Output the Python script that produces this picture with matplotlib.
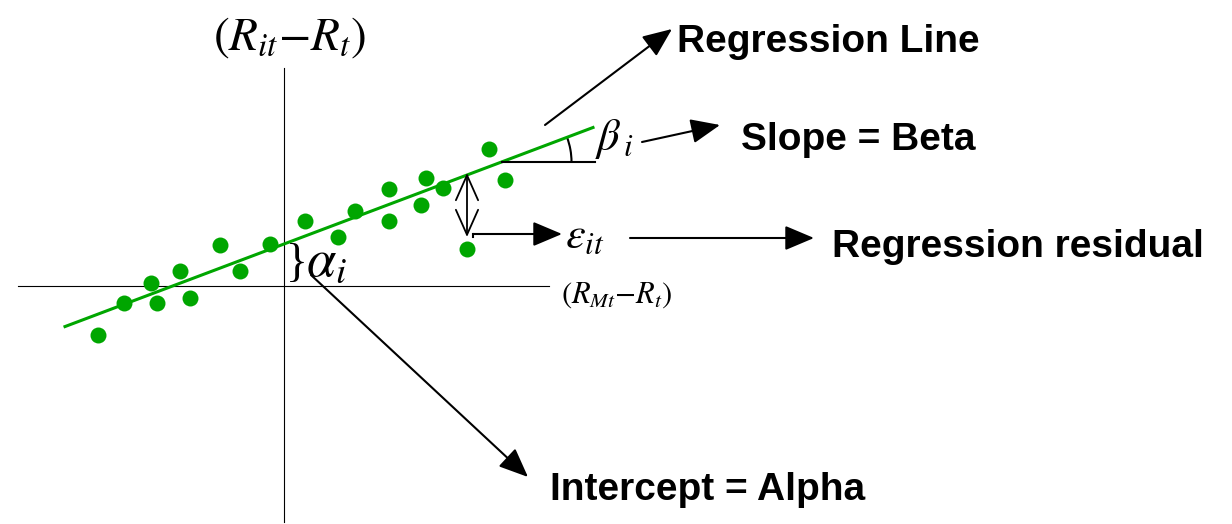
import matplotlib
matplotlib.use("Agg")
import matplotlib.pyplot as plt
from matplotlib.patches import Arc
import numpy as np

plt.rcParams["mathtext.fontset"] = "stix"

# excess returns (market on x, stock on y), one unit = one pixel
market_excess = [-186, -160, -133, -127, -104, -94, -64, -44, -14, 21,
                 54, 71, 105, 105, 137, 142, 159, 205, 221, 183]
stock_excess = [-49, -17, 3, -17, 15, -12, 41, 15, 42, 65,
                49, 75, 97, 65, 81, 108, 98, 137, 106, 37]
alpha = 42
beta = 0.377
line_range = [-219, 309]

GREEN = "#00A600"
LABEL_FONT = dict(family="Liberation Sans", weight="bold", fontsize=28)

fig = plt.figure(figsize=(12.32, 5.24), dpi=100)
ax = fig.add_axes([0, 0, 1, 1])
ax.set_xlim(-284, 948)
ax.set_ylim(-238, 286)
ax.axis("off")

# axes of the diagram
ax.plot([-266, 265], [0, 0], color="black", lw=0.8)
ax.plot([0, 0], [-236, 218], color="black", lw=0.8)

# regression line and observations
xs = np.array(line_range)
ax.plot(xs, alpha + beta * xs, color=GREEN, lw=2.2)
ax.plot(market_excess, stock_excess, "o", color=GREEN, ms=11.5, mec="none")

ax.text(6, 249, r"$(R_{it}{-}R_t)$", fontsize=34, ha="center", va="center")
ax.text(277, -9, r"$(R_{Mt}{-}R_t)$", fontsize=22, ha="left", va="center")

arrow = dict(arrowstyle="-|>,head_length=0.9,head_width=0.38", color="black",
             lw=1.5, shrinkA=0, shrinkB=0, mutation_scale=20)

# slope
vx = (124 - alpha) / beta
ax.plot([vx, 311], [124, 124], color="black", lw=1.5)
ang = np.degrees(np.arctan(beta))
ax.add_patch(Arc((vx, 124), 140, 140, theta1=0, theta2=ang, color="black", lw=1.5))
ax.text(311, 136, r"$\beta_{\,i}$", fontsize=32, ha="left", va="baseline")

# intercept
ax.text(13, 21, "}", family="Liberation Serif", fontsize=33, ha="center", va="center")
ax.text(22, 10, r"$\alpha_i$", fontsize=38, ha="left", va="baseline")

# residual
ax.annotate("", xy=(183, 113), xytext=(183, 49),
            arrowprops=dict(arrowstyle="<->,head_length=1.8,head_width=0.8",
                            color="black", lw=1.3, shrinkA=0, shrinkB=0,
                            mutation_scale=10))
ax.plot([189, 189], [49, 52], color="black", lw=1.5)
ax.annotate("", xy=(278, 52), xytext=(189, 52), arrowprops=arrow)
ax.text(281, 38, r"$\varepsilon_{it}$", fontsize=32, ha="left", va="baseline")

# callouts
ax.annotate("", xy=(388, 257), xytext=(261, 161), arrowprops=arrow)
ax.text(393, 244, "Regression Line", ha="left", va="center", **LABEL_FONT)

ax.annotate("", xy=(436, 161), xytext=(358, 144), arrowprops=arrow)
ax.text(457, 146, "Slope = Beta", ha="left", va="center", **LABEL_FONT)

ax.annotate("", xy=(530, 48), xytext=(346, 48), arrowprops=arrow)
ax.text(548, 39, "Regression residual", ha="left", va="center", **LABEL_FONT)

ax.annotate("", xy=(244, -191), xytext=(27, 11), arrowprops=arrow)
ax.text(266, -204, "Intercept = Alpha", ha="left", va="center", **LABEL_FONT)

fig.savefig("out.png", dpi=100)
